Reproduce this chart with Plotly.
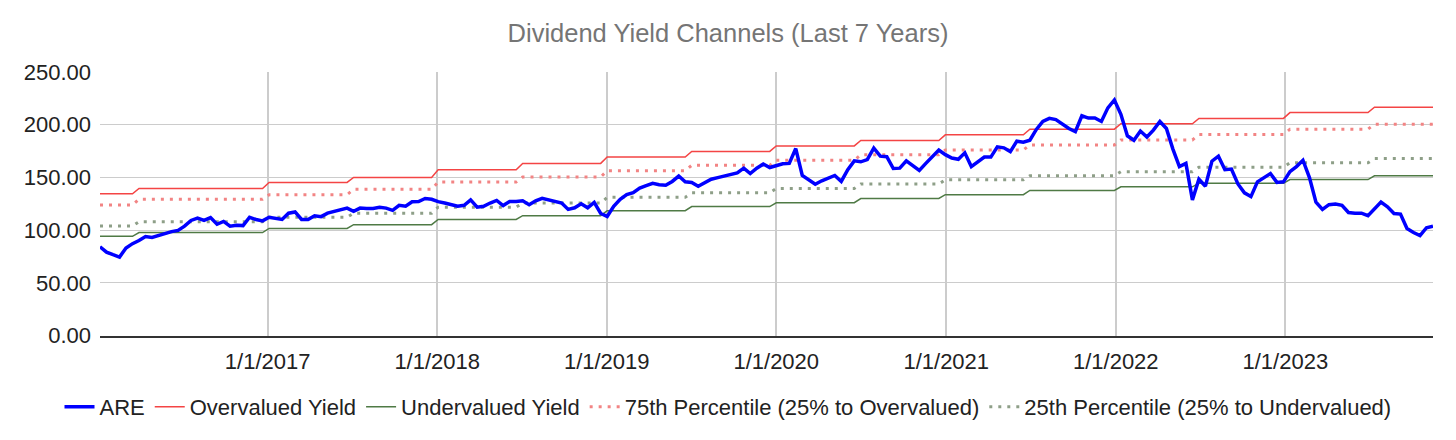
import pandas as pd
import plotly.graph_objects as go

# ARE price, one reading every two weeks (Jan 2016 -> Nov 2023)
dates = pd.date_range("2016-01-06", periods=206, freq="14D")

are = [
    84.2, 79.1, 76.7, 74.5, 83.0, 87.2, 90.2, 93.9, 93.0, 95.0, 97.1, 98.6, 99.8,
    103.8, 109.2, 111.5, 109.2, 111.9, 105.6, 108.3, 103.8, 104.7, 104.3, 112.2, 110.1, 108.8,
    112.2, 111.3, 110.1, 116.1, 117.3, 110.1, 110.1, 113.7, 112.8, 116.1, 117.6, 119.1, 120.9,
    117.9, 120.9, 120.6, 120.6, 121.8, 120.9, 118.8, 123.6, 122.7, 126.9, 127.2, 130.0, 129.3,
    127.0, 125.7, 124.2, 122.7, 123.6, 128.7, 121.8, 122.7, 125.7, 128.2, 123.3, 127.2, 127.2,
    127.8, 124.2, 127.8, 130.2, 128.7, 127.2, 125.7, 119.7, 121.2, 125.0, 121.2, 126.4, 115.8,
    113.0, 122.7, 129.3, 133.8, 135.6, 139.9, 142.2, 144.4, 143.1, 142.6, 146.2, 151.3, 145.8,
    145.3, 141.7, 144.9, 148.3, 149.8, 151.3, 152.8, 154.3, 158.8, 153.7, 158.8, 162.7, 159.4,
    161.0, 163.0, 163.3, 177.4, 151.9, 147.4, 143.5, 146.8, 149.2, 151.9, 146.2, 157.3, 165.7,
    164.8, 166.9, 177.8, 170.2, 169.7, 158.5, 158.8, 165.7, 160.9, 156.7, 163.3, 169.9, 176.0,
    171.6, 168.4, 167.2, 173.3, 160.3, 164.8, 169.3, 169.3, 179.0, 178.1, 174.5, 184.4, 183.5,
    185.3, 195.5, 203.1, 206.0, 204.9, 200.4, 196.4, 193.4, 208.5, 206.3, 206.3, 203.1, 216.0,
    223.5, 209.9, 189.5, 185.3, 194.0, 188.3, 194.9, 203.1, 196.4, 176.9, 160.3, 163.3, 128.7,
    148.3, 141.7, 165.4, 170.2, 157.3, 157.9, 143.8, 135.4, 131.8, 145.8, 149.8, 153.7, 145.3,
    145.8, 155.5, 160.3, 166.3, 149.8, 126.6, 119.7, 124.2, 124.8, 123.6, 116.7, 116.1, 116.1,
    113.7, 120.3, 126.6, 122.1, 115.8, 115.2, 101.6, 97.7, 94.8, 102.3, 103.8,
]

# channel levels change with each dividend raise; index of the first reading at each new level
step_start = [0, 6, 26, 39, 52, 65, 78, 91, 104, 117, 130, 143, 157, 169, 183, 196]

over_lvl = [134.5, 139.5, 145.3, 150.0, 157.3, 163.3, 169.3, 174.7, 179.9, 185.0, 190.4, 195.8, 200.9, 206.0, 211.5, 216.6]
p75_lvl = [123.9, 129.3, 133.6, 138.7, 145.6, 150.4, 156.4, 161.5, 166.3, 171.5, 176.0, 180.8, 185.6, 190.7, 195.8, 200.4]
p25_lvl = [104.0, 108.0, 112.2, 116.1, 121.8, 125.7, 131.1, 135.4, 139.5, 143.8, 147.7, 151.6, 155.5, 159.7, 163.9, 167.9]
under_lvl = [94.1, 97.7, 101.6, 105.2, 110.1, 113.7, 118.5, 122.4, 126.0, 130.0, 133.6, 137.7, 141.1, 144.4, 148.0, 151.6]

tick_dates = ["2017-01-01", "2018-01-01", "2019-01-01", "2020-01-01", "2021-01-01", "2022-01-01", "2023-01-01"]
tick_text = ["1/1/2017", "1/1/2018", "1/1/2019", "1/1/2020", "1/1/2021", "1/1/2022", "1/1/2023"]


def expand(levels):
    out = []
    for k in range(len(dates)):
        i = sum(1 for s in step_start if s <= k) - 1
        out.append(levels[i])
    return out


FONT = "Liberation Sans, Arial, sans-serif"

fig = go.Figure()
# channels first so the blue line sits on top; legendrank keeps ARE first in the legend
fig.add_trace(go.Scatter(x=dates, y=expand(over_lvl), mode="lines", name="Overvalued Yield", legendrank=2,
                         line=dict(color="#f44444", width=1.5)))
fig.add_trace(go.Scatter(x=dates, y=expand(under_lvl), mode="lines", name="Undervalued Yield", legendrank=3,
                         line=dict(color="#4f7a45", width=1.5)))
fig.add_trace(go.Scatter(x=dates, y=expand(p75_lvl), mode="lines", name="75th Percentile (25% to Overvalued)",
                         legendrank=4, line=dict(color="#f28484", width=3, dash="3px,6px")))
fig.add_trace(go.Scatter(x=dates, y=expand(p25_lvl), mode="lines", name="25th Percentile (25% to Undervalued)",
                         legendrank=5, line=dict(color="#8e9f88", width=3, dash="3px,6px")))
fig.add_trace(go.Scatter(x=dates, y=are, mode="lines", name="ARE", legendrank=1,
                         line=dict(color="#0000ff", width=3.5)))

# page has an 8px body margin, so the figure is 16px narrower/shorter than the window
fig.update_layout(
    width=1440, height=424,
    paper_bgcolor="white", plot_bgcolor="white",
    font=dict(family=FONT, size=22, color="#222222"),
    margin=dict(l=92, r=15, t=64, b=83),
    title=dict(text="Dividend Yield Channels (Last 7 Years)", x=0.5, xref="container", xanchor="center",
               y=0.94, yref="container", yanchor="middle", font=dict(size=25.5, color="#757575")),
    legend=dict(orientation="h", x=0.5, xanchor="center", xref="container",
                y=0.059, yanchor="middle", yref="container",
                itemwidth=30, font=dict(size=22, color="#222222")),
    showlegend=True,
)
fig.update_xaxes(range=[dates[0], dates[-1]], tickvals=tick_dates, ticktext=tick_text,
                 showgrid=True, gridcolor="#cccccc", gridwidth=1.5, zeroline=False,
                 showline=True, linecolor="#333333", linewidth=2, ticks="", ticklabelstandoff=5)
fig.update_yaxes(range=[0, 250], dtick=50, tickformat=".2f", showgrid=True, gridcolor="#cccccc",
                 gridwidth=1.2, zeroline=False, showline=False, ticks="", ticklabelstandoff=8)

fig.write_html("out.html")
